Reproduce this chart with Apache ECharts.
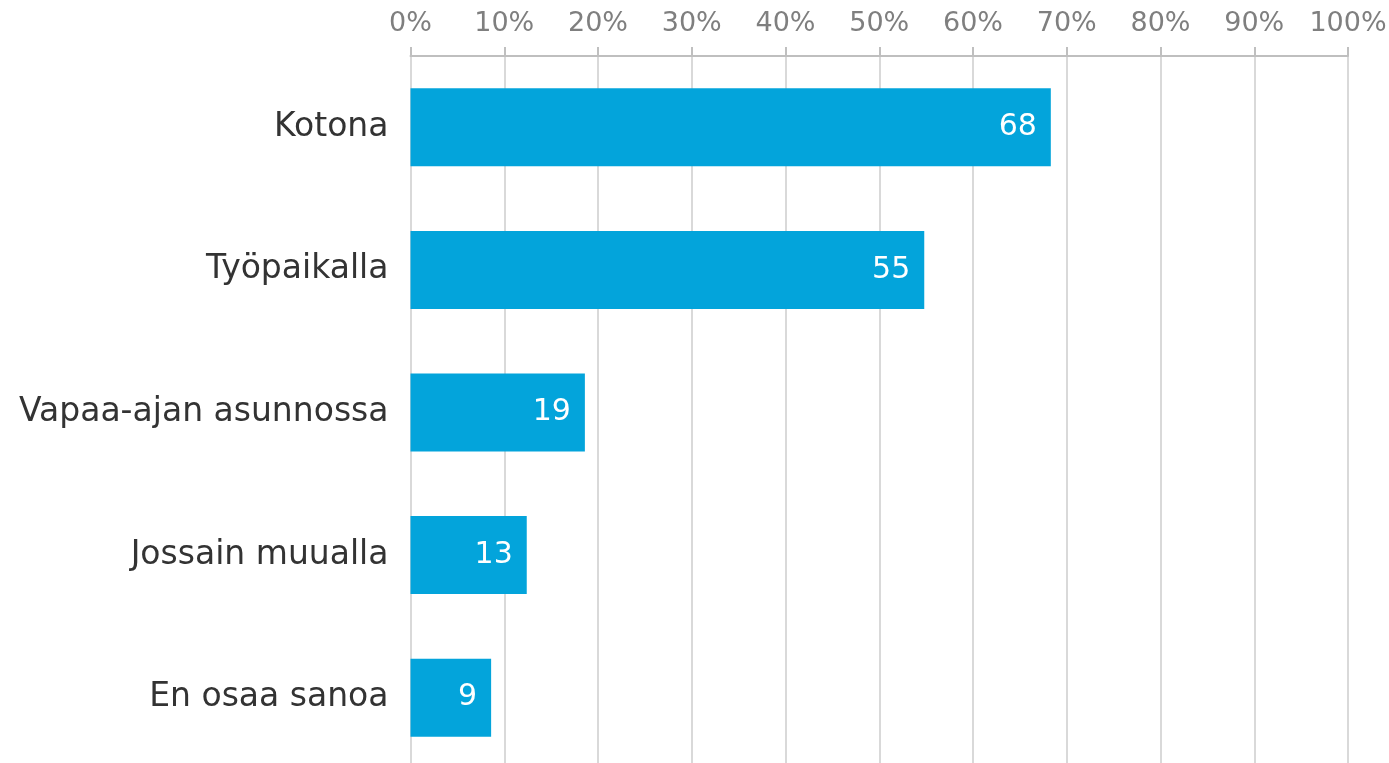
<!DOCTYPE html>
<html>
<head>
<meta charset="utf-8">
<script src="https://cdn.jsdelivr.net/npm/echarts@6/dist/echarts.min.js"></script>
<style>
html, body { margin: 0; padding: 0; background: #fff; }
#chart { width: 1389px; height: 763px; }
</style>
</head>
<body>
<div id="chart"></div>
<script>
var categories = ['Kotona', 'Työpaikalla', 'Vapaa-ajan asunnossa', 'Jossain muualla', 'En osaa sanoa'];
var values = [68.3, 54.8, 18.6, 12.4, 8.6];
var labels = ['68', '55', '19', '13', '9'];

var myChart = echarts.init(document.getElementById('chart'));
var font = 'DejaVu Sans, Verdana, sans-serif';

var option = {
    animation: false,
    grid: {
        left: 410.5,
        top: 56,
        width: 937.5,
        height: 713,
        containLabel: false,
        outerBoundsMode: 'none'
    },
    xAxis: {
        type: 'value',
        position: 'top',
        min: 0,
        max: 100,
        interval: 10,
        axisLine: { show: true, lineStyle: { color: '#bfbfbf', width: 2 } },
        axisTick: { show: true, length: 9, lineStyle: { color: '#bfbfbf', width: 2 } },
        axisLabel: {
            margin: 19,
            formatter: '{value}%',
            color: '#7f7f7f',
            fontSize: 27,
            fontFamily: font
        },
        splitLine: { show: true, lineStyle: { color: '#d9d9d9', width: 2 } }
    },
    yAxis: {
        type: 'category',
        inverse: true,
        data: categories,
        axisLine: { show: false },
        axisTick: { show: false },
        axisLabel: {
            margin: 22,
            color: '#333333',
            fontSize: 33,
            fontFamily: font
        }
    },
    series: [{
        type: 'bar',
        data: values,
        barWidth: 78,
        itemStyle: { color: '#03a4db' },
        label: {
            show: true,
            position: 'insideRight',
            distance: 14,
            color: '#ffffff',
            fontSize: 30,
            fontFamily: font,
            formatter: function (p) { return labels[p.dataIndex]; }
        }
    }]
};
myChart.setOption(option);
</script>
</body>
</html>
